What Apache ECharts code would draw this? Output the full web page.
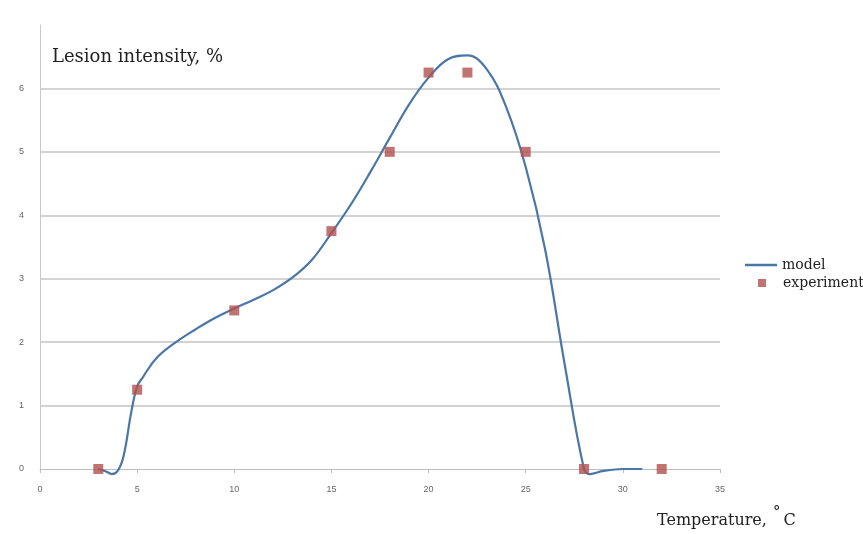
<!DOCTYPE html>
<html>
<head>
<meta charset="utf-8">
<script src="https://cdn.jsdelivr.net/npm/echarts@6/dist/echarts.min.js"></script>
<style>
  html, body { margin: 0; padding: 0; background: #fff; }
  #chart { width: 863px; height: 534px; }
</style>
</head>
<body>
<div id="chart"></div>
<script>
// model curve (temperature, lesion %)
var modelX = [3, 3.4, 3.7, 4.0, 4.3, 4.7, 5.0, 5.3, 6, 7, 8, 9, 10, 11, 12, 13, 14, 15, 16, 17, 18, 19, 20, 21, 22, 23, 24, 25, 26, 27, 28, 28.3, 29, 30, 31];
var modelY = [0, -0.04, -0.08, -0.03, 0.2, 0.9, 1.3, 1.45, 1.75, 2.0, 2.2, 2.38, 2.53, 2.67, 2.82, 3.02, 3.3, 3.72, 4.17, 4.68, 5.22, 5.75, 6.17, 6.46, 6.52, 6.3, 5.7, 4.76, 3.46, 1.66, 0.0, -0.08, -0.03, 0, 0];

// experiment points
var expX = [3, 5, 10, 15, 18, 20, 22, 25, 28, 32];
var expY = [0, 1.25, 2.5, 3.75, 5, 6.25, 6.25, 5, 0, 0];

var xTicks = { min: 0, max: 35, step: 5 };
var yTicks = { min: 0, max: 7, step: 1 };

function pairs(xs, ys) {
    var out = [];
    for (var i = 0; i < xs.length; i++) out.push([xs[i], ys[i]]);
    return out;
}

var serif = "'DejaVu Serif', 'Liberation Serif', serif";
var chart = echarts.init(document.getElementById("chart"));

chart.setOption({
    backgroundColor: "#fff",
    animation: false,
    title: [
        { text: "Lesion intensity, %", left: 47, top: 43,
          textStyle: { fontFamily: serif, fontSize: 18, fontWeight: "normal", color: "#222" } },
        { text: "{t|Temperature,}{d|°}{t|C}", left: 652, top: 500,
          textStyle: { fontWeight: "normal", rich: {
              t: { fontFamily: serif, fontSize: 16, fontWeight: "normal", color: "#222", verticalAlign: "bottom", lineHeight: 24 },
              d: { fontFamily: serif, fontSize: 15, fontWeight: "normal", color: "#222", verticalAlign: "top", lineHeight: 24, padding: [0, 3, 8, 6] }
          } } }
    ],
    legend: [
        { data: [{ name: "model", icon: "path://M0,0L32,0L32,2.5L0,2.5Z" }], orient: "vertical", left: 740, top: 253,
          itemWidth: 32, itemHeight: 3, itemGap: 8,
          textStyle: { fontFamily: serif, fontSize: 14, color: "#222" } },
        { data: [{ name: "experiment", icon: "rect" }], orient: "vertical", left: 753, top: 271,
          itemWidth: 8, itemHeight: 8, itemGap: 8,
          textStyle: { fontFamily: serif, fontSize: 14, color: "#222", padding: [0, 0, 0, 12] } }
    ],
    grid: { left: 40, right: 143, top: 25, bottom: 65 },
    xAxis: {
        type: "value", min: xTicks.min, max: xTicks.max, interval: xTicks.step,
        axisLine: { show: true, onZero: true, lineStyle: { color: "#bdbdbd", width: 1 } },
        axisTick: { show: true, length: 4, lineStyle: { color: "#bdbdbd" } },
        axisLabel: { color: "#666", fontSize: 9, margin: 16, fontFamily: "'Liberation Sans', sans-serif" },
        splitLine: { show: false }
    },
    yAxis: {
        type: "value", min: yTicks.min, max: yTicks.max, interval: yTicks.step,
        axisLine: { show: true, lineStyle: { color: "#c8c8c8", width: 1 } },
        axisTick: { show: false },
        axisLabel: { color: "#666", fontSize: 9, margin: 16, showMaxLabel: false,
                     fontFamily: "'Liberation Sans', sans-serif" },
        splitLine: { show: true, showMinLine: false, showMaxLine: false,
                     lineStyle: { color: "#c4c4c4", width: 1.5 } }
    },
    series: [
        {
            name: "model", type: "line", smooth: 0.4, symbol: "none", clip: false,
            data: pairs(modelX, modelY),
            lineStyle: { color: "#4a76a8", width: 2.2 },
            itemStyle: { color: "#4a76a8" },
            z: 2
        },
        {
            name: "experiment", type: "scatter", symbol: "rect", symbolSize: 10,
            data: pairs(expX, expY), clip: false,
            itemStyle: { color: "#b0504e" },
            z: 3
        }
    ]
});
</script>
</body>
</html>
